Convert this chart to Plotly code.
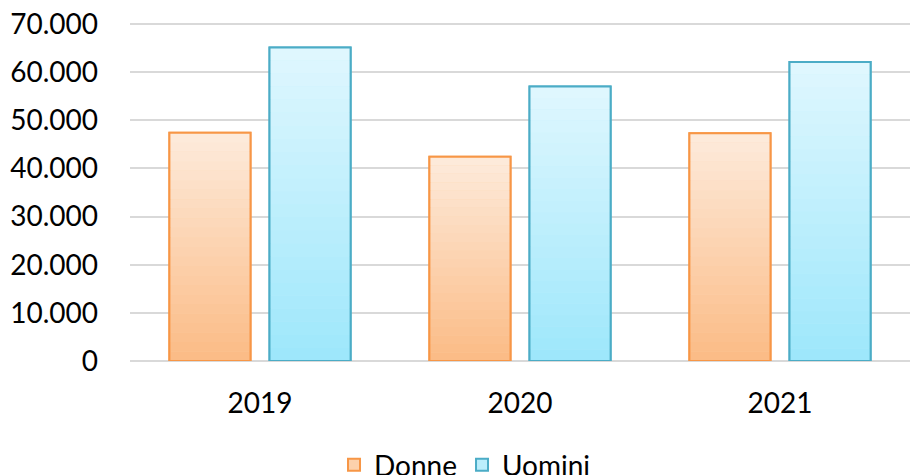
import plotly.graph_objects as go

anni = ["2019", "2020", "2021"]
donne = [47400, 42400, 47300]
uomini = [65100, 57000, 62100]
y_ticks = [0, 10000, 20000, 30000, 40000, 50000, 60000, 70000]

FONT = "Lato, 'Open Sans', sans-serif"
N_SEG = 24


def lerp_color(c1, c2, t):
    a = [int(c1[i:i + 2], 16) for i in (1, 3, 5)]
    b = [int(c2[i:i + 2], 16) for i in (1, 3, 5)]
    return "rgb(%d,%d,%d)" % tuple(round(a[k] + (b[k] - a[k]) * t) for k in range(3))


series = [
    ("Donne", donne, "#F79646", "#FBBB85", "#FDEBDC", "D"),
    ("Uomini", uomini, "#4BACC6", "#9DE7FB", "#E0F7FE", "U"),
]

fig = go.Figure()
for name, vals, line_c, bottom_c, top_c, grp in series:
    # legend / base bar
    fig.add_trace(go.Bar(
        x=anni, y=vals, name=name, offsetgroup=grp,
        marker=dict(color=lerp_color(bottom_c, top_c, 0.45), line=dict(color=line_c, width=2)),
        showlegend=True, hoverinfo="skip",
    ))
    # vertical gradient made of stacked slices of each bar
    for i in range(N_SEG):
        t = (i + 0.5) / N_SEG
        fig.add_trace(go.Bar(
            x=anni,
            y=[v / N_SEG * 1.02 for v in vals],
            base=[v * i / N_SEG for v in vals],
            offsetgroup=grp, showlegend=False, hoverinfo="skip",
            marker=dict(color=lerp_color(bottom_c, top_c, t), line=dict(width=0)),
        ))
    # outline on top
    fig.add_trace(go.Bar(
        x=anni, y=vals, name=name, offsetgroup=grp, showlegend=False,
        marker=dict(color="rgba(0,0,0,0)", line=dict(color=line_c, width=2)),
    ))

fig.update_layout(
    width=910, height=475,
    margin=dict(l=130, r=0, t=22, b=114),
    paper_bgcolor="white", plot_bgcolor="white",
    barmode="group", bargap=0.23, bargroupgap=0.19,
    separators=",.",
    font=dict(family=FONT, size=28, color="#000000"),
    showlegend=True,
    legend=dict(
        orientation="h", xref="container", yref="container",
        x=0.511, xanchor="center", y=0.021, yanchor="middle",
        font=dict(family=FONT, size=28, color="#000000"),
        itemwidth=30, tracegroupgap=0,
    ),
    xaxis=dict(
        showgrid=False, showline=False, zeroline=False, ticks="",
        tickfont=dict(family=FONT, size=28, color="#000000"),
        ticklabelstandoff=23,
    ),
    yaxis=dict(
        range=[0, 70400], tickvals=y_ticks, tickformat=",d",
        showgrid=True, gridcolor="#D9D9D9", gridwidth=1.5,
        zeroline=True, zerolinecolor="#D9D9D9", zerolinewidth=1.5,
        showline=False, ticks="",
        tickfont=dict(family=FONT, size=28, color="#000000"),
        ticklabelstandoff=31,
    ),
)

fig.write_html(
    "out.html",
    config={"displayModeBar": False},
    post_script="document.body.style.margin='0';",
)
